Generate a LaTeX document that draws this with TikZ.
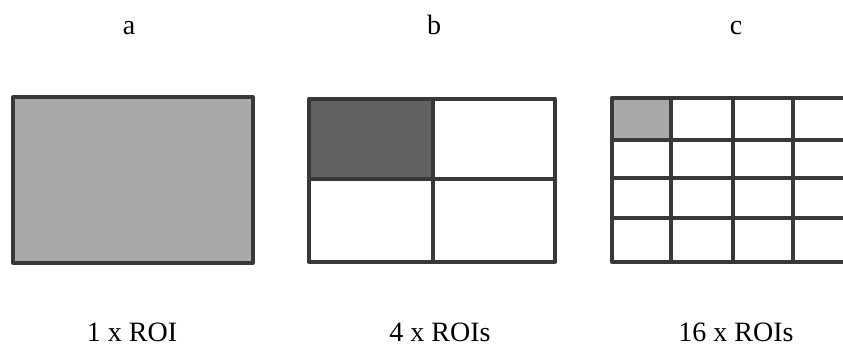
\documentclass[tikz,border=0pt]{standalone}
\usepackage{fontspec}
\setmainfont{Liberation Serif}
\begin{document}
\begin{tikzpicture}[x=1pt,y=-1pt,
  gridline/.style={draw=black!78, line width=3.3pt, line cap=round, line join=round},
  lbl/.style={font=\fontsize{28}{32}\selectfont, anchor=base, inner sep=0pt}]
\definecolor{lightfill}{HTML}{A9A9A9}
\definecolor{darkfill}{HTML}{616161}
\useasboundingbox (0,0) rectangle (843,347);
% top letters
\node[lbl] (la) at (129,35) {a};
\node[lbl] (lb) at (434,35) {b};
\node[lbl] (lc) at (736,35) {c};
% a
\fill[lightfill] (13,97) rectangle (253,263);
\draw[gridline] (13,97) rectangle (253,263);
% b
\fill[darkfill] (309,99) rectangle (433,179);
\draw[gridline] (309,99) rectangle (555,262);
\draw[gridline] (433,99) -- (433,262);
\draw[gridline] (309,179) -- (555,179);
% c
\fill[lightfill] (612,98) rectangle (671,140);
\draw[gridline] (850,98) -- (612,98) -- (612,262) -- (850,262);
\foreach \x in {671,733,793} \draw[gridline] (\x,98) -- (\x,262);
\foreach \y in {140,178,218} \draw[gridline] (612,\y) -- (850,\y);
% bottom labels
\node[lbl] (ta) at (132,341) {1 x ROI};
\node[lbl] (tb) at (440,341) {4 x ROIs};
\node[lbl] (tc) at (736,341) {16 x ROIs};
\end{tikzpicture}
\end{document}
